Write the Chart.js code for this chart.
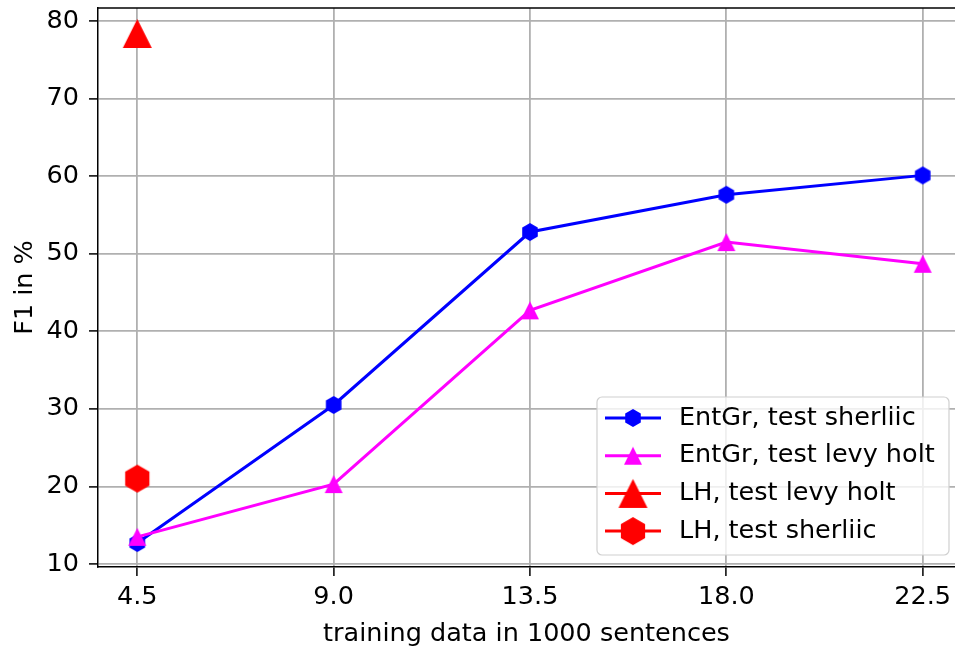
<!DOCTYPE html>
<html>
<head>
<meta charset="utf-8">
<script src="https://cdn.jsdelivr.net/npm/chart.js@4"></script>
<style>
  html, body { margin: 0; padding: 0; background: #fff; }
</style>
</head>
<body>
<canvas id="myChart" width="955" height="647"></canvas>
<script>
// values
var sizes = [4.5, 9.0, 13.5, 18.0, 22.5];
var entgrSherliic = [12.7, 30.5, 52.8, 57.6, 60.1];
var entgrLevyHolt = [13.5, 20.3, 42.7, 51.5, 48.7];
var lhSize = [4.5];
var lhLevyHolt = [78.4];
var lhSherliic = [21.0];
var xTicks = [4.5, 9.0, 13.5, 18.0, 22.5];
var yTicks = [10, 20, 30, 40, 50, 60, 70, 80];

var FONT = 'DejaVu Sans';
var FSIZE = 25.5;

// matplotlib-like markers drawn into small canvases
function marker(shape, r, color) {
    var s = Math.ceil(r * 2 + 2);
    var c = document.createElement('canvas');
    c.width = s; c.height = s;
    var g = c.getContext('2d');
    g.translate(s / 2, s / 2);
    g.beginPath();
    if (shape === 'hex') {
        for (var i = 0; i < 6; i++) {
            var a = Math.PI / 2 + i * Math.PI / 3;
            g.lineTo(r * Math.cos(a), -r * Math.sin(a));
        }
    } else {
        g.moveTo(0, -r);
        g.lineTo(-r, r);
        g.lineTo(r, r);
    }
    g.closePath();
    g.fillStyle = color;
    g.fill();
    return c;
}

function pts(xs, ys) {
    return xs.map(function (x, i) { return { x: x, y: ys[i] }; });
}

var topSpine = {
    id: 'topSpine',
    afterDraw: function (chart) {
        var a = chart.chartArea, ctx = chart.ctx;
        ctx.save();
        ctx.strokeStyle = '#000';
        ctx.lineWidth = 1.5;
        ctx.beginPath();
        ctx.moveTo(a.left, a.top);
        ctx.lineTo(a.right, a.top);
        ctx.stroke();
        ctx.restore();
    }
};

var mplLegend = {
    id: 'mplLegend',
    afterDraw: function (chart) {
        var a = chart.chartArea, ctx = chart.ctx;
        var w = 352, h = 158;
        var x0 = a.right - 358, y0 = a.bottom - 170;
        ctx.save();
        ctx.beginPath();
        ctx.roundRect(x0, y0, w, h, 5);
        ctx.fillStyle = 'rgba(255,255,255,0.8)';
        ctx.fill();
        ctx.strokeStyle = '#d0d0d0';
        ctx.lineWidth = 1.2;
        ctx.stroke();
        chart.data.datasets.forEach(function (ds, i) {
            var y = y0 + 21 + i * 37.7;
            ctx.strokeStyle = ds.borderColor;
            ctx.lineWidth = 3;
            ctx.beginPath();
            ctx.moveTo(x0 + 8, y);
            ctx.lineTo(x0 + 64, y);
            ctx.stroke();
            var m = ds.pointStyle;
            ctx.drawImage(m, x0 + 36 - m.width / 2, y - m.height / 2);
            ctx.fillStyle = '#000';
            ctx.font = FSIZE + 'px "' + FONT + '"';
            ctx.textBaseline = 'middle';
            ctx.fillText(ds.label, x0 + 82, y);
        });
        ctx.restore();
    }
};

var ctx = document.getElementById('myChart').getContext('2d');
var myChart = new Chart(ctx, {
    type: 'scatter',
    data: {
        datasets: [{
            label: 'EntGr, test sherliic',
            data: pts(sizes, entgrSherliic),
            showLine: true,
            borderColor: '#0000ff',
            borderWidth: 3,
            pointStyle: marker('hex', 9, '#0000ff'),
            order: 4
        }, {
            label: 'EntGr, test levy holt',
            data: pts(sizes, entgrLevyHolt),
            showLine: true,
            borderColor: '#ff00ff',
            borderWidth: 3,
            pointStyle: marker('tri', 9, '#ff00ff'),
            order: 3
        }, {
            label: 'LH, test levy holt',
            data: pts(lhSize, lhLevyHolt),
            showLine: false,
            borderColor: '#ff0000',
            pointStyle: marker('tri', 14.5, '#ff0000'),
            order: 2
        }, {
            label: 'LH, test sherliic',
            data: pts(lhSize, lhSherliic),
            showLine: false,
            borderColor: '#ff0000',
            pointStyle: marker('hex', 14, '#ff0000'),
            order: 1
        }]
    },
    options: {
        responsive: false,
        animation: false,
        clip: false,
        layout: { autoPadding: false, padding: { top: 8, left: 0, right: 0, bottom: 0 } },
        plugins: {
            legend: { display: false },
            tooltip: { enabled: false }
        },
        scales: {
            x: {
                type: 'linear',
                min: 3.6,
                max: 23.24,
                afterBuildTicks: function (s) { s.ticks = xTicks.map(function (v) { return { value: v }; }); },
                afterFit: function (s) { s.height = 80; s.paddingLeft = 0; s.paddingRight = 0; },
                ticks: {
                    color: '#000',
                    font: { family: FONT, size: FSIZE },
                    padding: 6,
                    maxRotation: 0,
                    callback: function (v) { return v.toFixed(1); }
                },
                grid: { color: '#b0b0b0', lineWidth: 1.8, tickColor: '#000', tickLength: 9, tickWidth: 1.5 },
                border: { color: '#000', width: 1.5 },
                title: {
                    display: true,
                    text: 'training data in 1000 sentences',
                    color: '#000',
                    font: { family: FONT, size: FSIZE, lineHeight: 1 },
                    padding: { top: 0, bottom: 0 }
                }
            },
            y: {
                type: 'linear',
                min: 9.61,
                max: 81.68,
                afterBuildTicks: function (s) { s.ticks = yTicks.map(function (v) { return { value: v }; }); },
                afterFit: function (s) { s.width = 98; s.paddingTop = 0; s.paddingBottom = 0; },
                ticks: {
                    color: '#000',
                    font: { family: FONT, size: FSIZE },
                    padding: 10
                },
                grid: { color: '#b0b0b0', lineWidth: 1.8, tickColor: '#000', tickLength: 9, tickWidth: 1.5 },
                border: { color: '#000', width: 1.5 },
                title: {
                    display: true,
                    text: 'F1 in %',
                    color: '#000',
                    font: { family: FONT, size: FSIZE, lineHeight: 1 },
                    padding: { top: 13, bottom: 0 }
                }
            }
        }
    },
    plugins: [topSpine, mplLegend]
});
</script>
</body>
</html>
